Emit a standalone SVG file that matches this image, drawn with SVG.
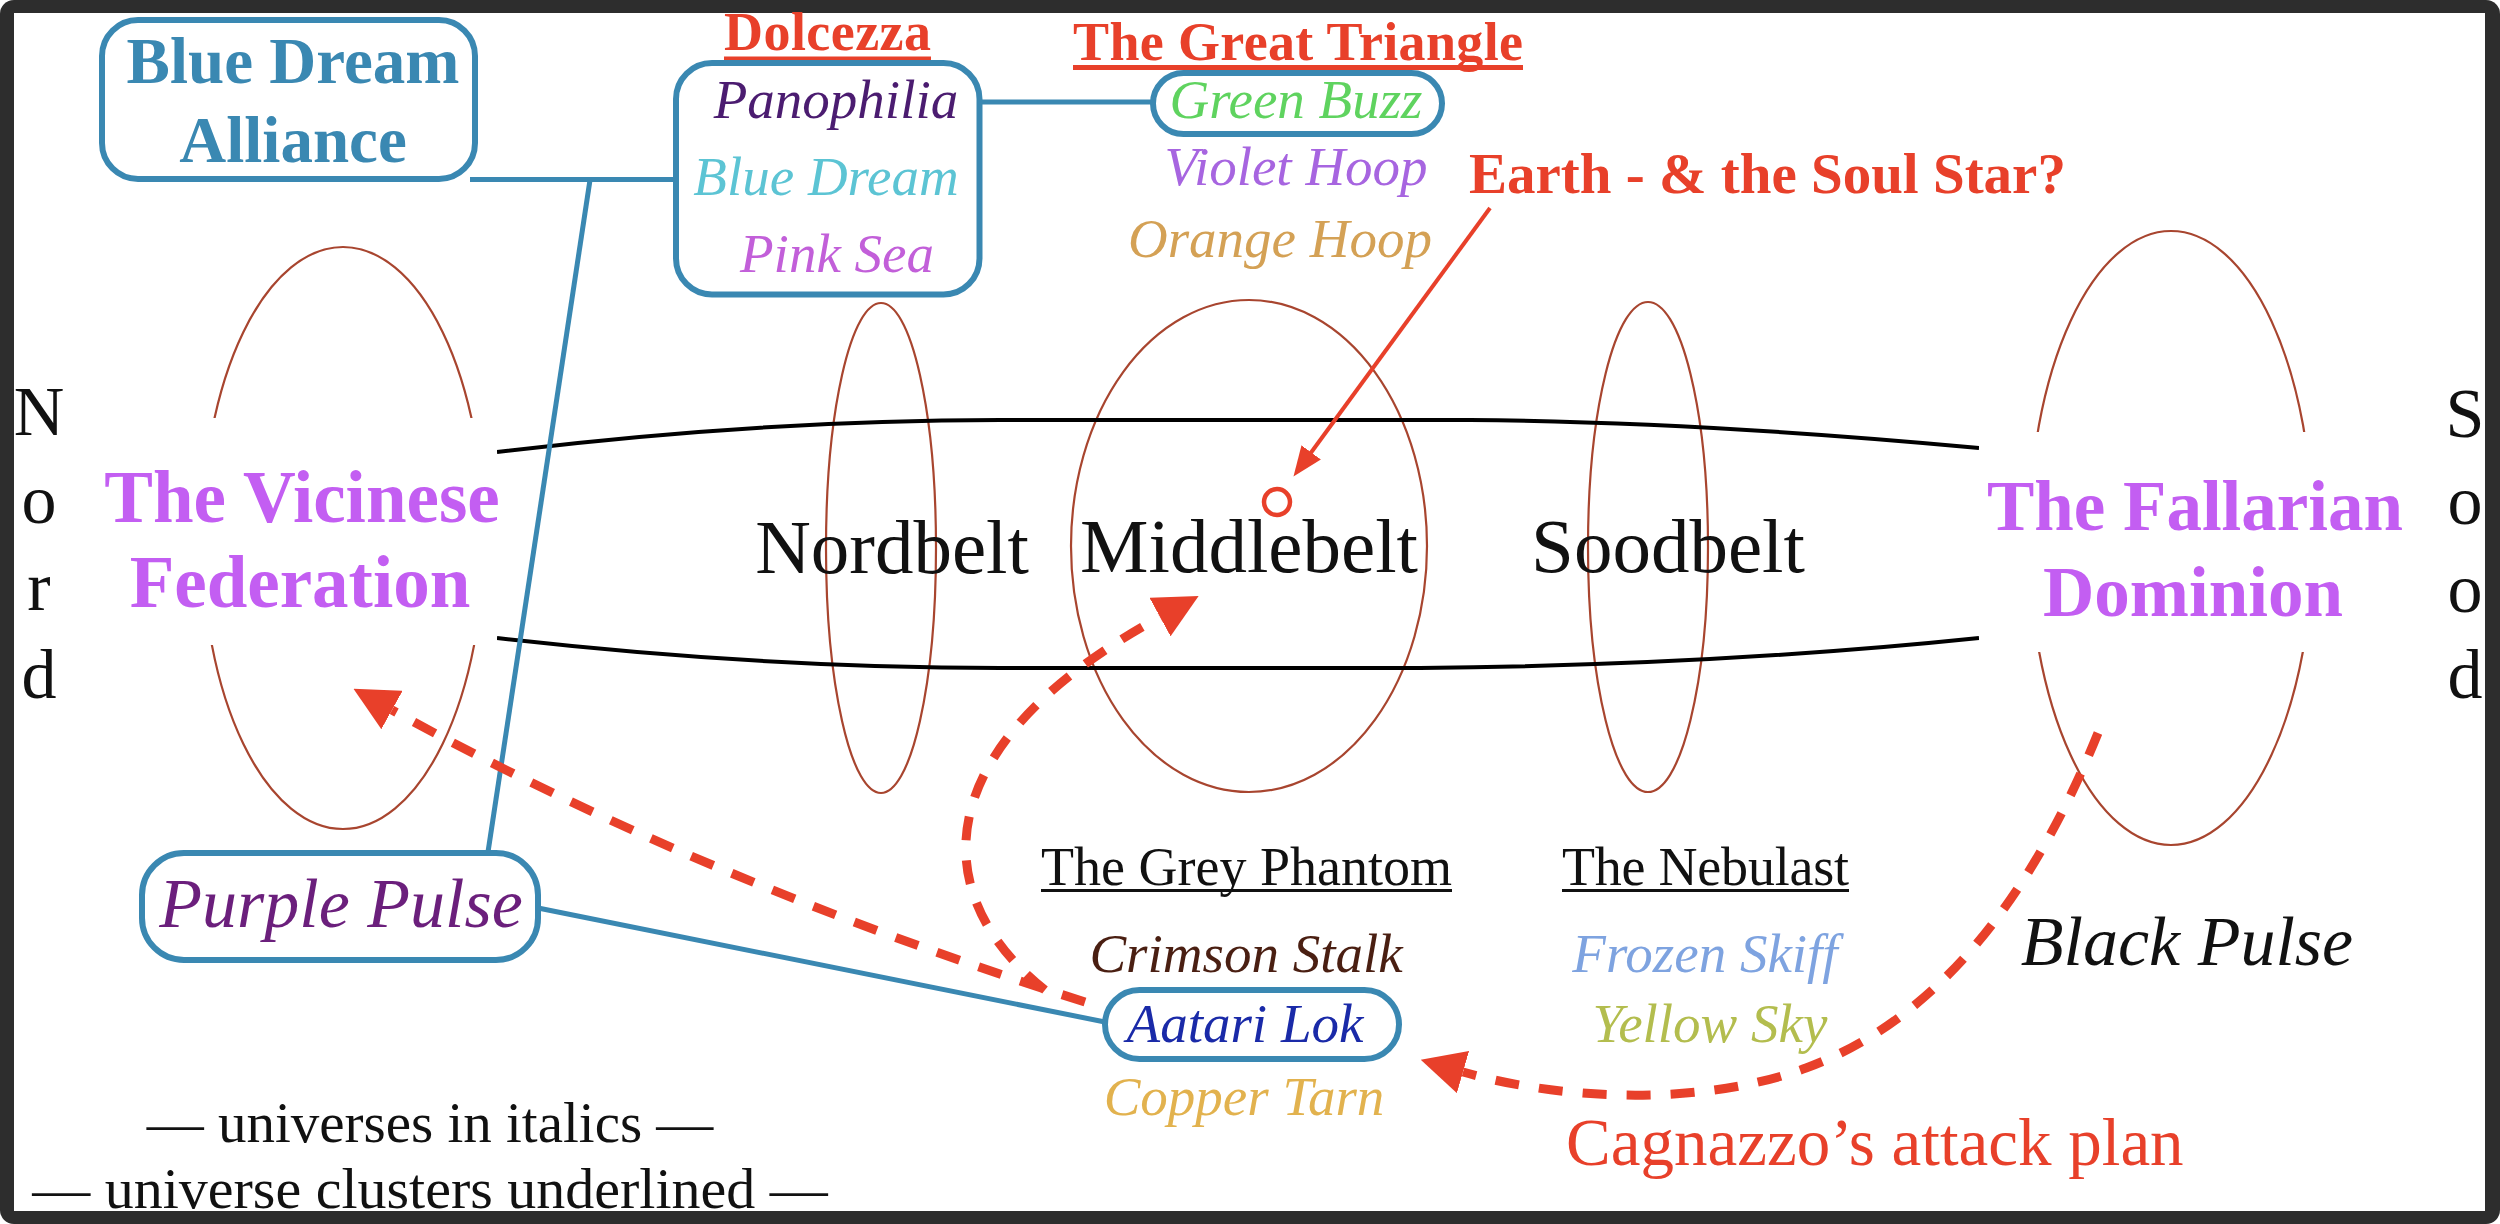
<svg xmlns="http://www.w3.org/2000/svg" width="2500" height="1224" viewBox="0 0 2500 1224">
<defs>
<style>
.ser{font-family:"Liberation Serif","Times New Roman",serif}
.it{font-family:"Liberation Serif","Times New Roman",serif;font-style:italic;font-size:55px;text-anchor:middle}
.bold{font-family:"Liberation Serif","Times New Roman",serif;font-weight:bold}
.ell{fill:none;stroke:#a8452f;stroke-width:2.2}
.belt{fill:none;stroke:#000;stroke-width:4}
.box{fill:#fff;stroke:#3a88b2;stroke-width:6}
.bl{fill:none;stroke:#3a88b2;stroke-width:5}
.dash{fill:none;stroke:#e8402a;stroke-width:9;stroke-dasharray:24 20}
.reg{font-family:"Liberation Serif","Times New Roman",serif;text-anchor:middle;fill:#111}
</style>
<marker id="redhead" markerUnits="userSpaceOnUse" viewBox="0 0 44 44" markerWidth="44" markerHeight="44" refX="0" refY="22" orient="auto">
<path d="M0,0 L44,22 L0,44 Z" fill="#e8402a"/>
</marker>
<marker id="earthhead" markerUnits="userSpaceOnUse" viewBox="0 0 30 24" markerWidth="30" markerHeight="24" refX="2" refY="12" orient="auto">
<path d="M0,0 L30,12 L0,24 Z" fill="#e8402a"/>
</marker>
</defs>

<rect width="2500" height="1224" fill="#fff"/>
<rect width="2500" height="1224" rx="14" fill="#2d2d2d"/>
<rect x="14" y="13" width="2471" height="1198" fill="#fff"/>

<g id="regions">
<ellipse class="ell" cx="343" cy="538" rx="141" ry="291"/>
<ellipse class="ell" cx="881" cy="548" rx="55" ry="245"/>
<ellipse class="ell" cx="1249" cy="546" rx="178" ry="246"/>
<ellipse class="ell" cx="1648" cy="547" rx="60" ry="245"/>
<ellipse class="ell" cx="2171" cy="538" rx="142" ry="307"/>
<path class="belt" d="M497,452 Q760,420 1000,420 L1470,420 Q1700,422 1979,448"/>
<path class="belt" d="M497,638 Q760,668 1000,668 L1420,668 Q1720,665 1979,638"/>
<rect x="80" y="418" width="417" height="227" fill="#fff"/>
<rect x="1979" y="432" width="460" height="220" fill="#fff"/>
</g>

<g id="compass">
<text class="reg" font-size="70" x="39" y="435">N</text>
<text class="reg" font-size="70" x="39" y="523">o</text>
<text class="reg" font-size="70" x="39" y="610">r</text>
<text class="reg" font-size="70" x="39" y="698">d</text>
<text class="reg" font-size="70" x="2465" y="437">S</text>
<text class="reg" font-size="70" x="2465" y="524">o</text>
<text class="reg" font-size="70" x="2465" y="612">o</text>
<text class="reg" font-size="70" x="2465" y="698">d</text>
</g>

<g id="belts">
<text class="reg" font-size="77" x="892" y="573">Nordbelt</text>
<text class="reg" font-size="77" x="1249" y="572">Middlebelt</text>
<text class="reg" font-size="77" x="1668" y="572">Soodbelt</text>
</g>

<g id="vicinese">
<text class="bold" font-size="73" fill="#c35ef2" text-anchor="middle" x="302" y="522">The Vicinese</text>
<text class="bold" font-size="73" fill="#c35ef2" text-anchor="middle" x="300" y="607">Federation</text>
</g>
<g id="fallarian">
<text class="bold" font-size="71" fill="#c35ef2" text-anchor="middle" x="2195" y="530">The Fallarian</text>
<text class="bold" font-size="71" fill="#c35ef2" text-anchor="middle" x="2193" y="616">Dominion</text>
</g>

<g id="connectors">
<line class="bl" x1="470" y1="179.5" x2="676" y2="179.5"/>
<line class="bl" x1="590" y1="180" x2="488" y2="852"/>
<line class="bl" x1="979" y1="102" x2="1153" y2="102"/>
<line class="bl" x1="538" y1="908" x2="1105" y2="1022"/>
</g>

<g id="blue-dream-alliance">
<rect class="box" x="102" y="20" width="373" height="159" rx="36"/>
<text class="bold" font-size="65" fill="#3a88b2" text-anchor="middle" x="293" y="83">Blue Dream</text>
<text class="bold" font-size="65" fill="#3a88b2" text-anchor="middle" x="293" y="162">Alliance</text>
</g>

<g id="dolcezza">
<text class="bold" font-size="54" fill="#e8402a" x="724" y="50" textLength="207">Dolcezza</text>
<line x1="724" y1="59" x2="931" y2="59" stroke="#e8402a" stroke-width="5"/>
<rect class="box" x="676" y="63" width="303.5" height="231.5" rx="36"/>
<text class="it" fill="#4b1c70" x="836" y="118">Panophilia</text>
<text class="it" fill="#5cc4d4" x="826" y="195">Blue Dream</text>
<text class="it" fill="#c25fd9" x="837" y="272">Pink Sea</text>
</g>

<g id="great-triangle">
<text class="bold" font-size="54" fill="#e8402a" x="1073" y="60" textLength="450">The Great Triangle</text>
<line x1="1073" y1="67.5" x2="1523" y2="67.5" stroke="#e8402a" stroke-width="5"/>
<rect class="box" x="1153" y="73" width="289" height="61" rx="30.5"/>
<text class="it" fill="#5fd35f" x="1296" y="118">Green Buzz</text>
<text class="it" fill="#a765e0" x="1296" y="185">Violet Hoop</text>
<text class="it" fill="#d4a155" x="1280" y="257">Orange Hoop</text>
</g>

<g id="earth">
<text class="bold" font-size="57" fill="#e8402a" x="1469" y="193">Earth - &amp; the Soul Star?</text>
<line x1="1490" y1="208" x2="1310" y2="454" stroke="#e8402a" stroke-width="4" marker-end="url(#earthhead)"/>
<circle cx="1277" cy="502" r="13" fill="none" stroke="#e8402a" stroke-width="4.5"/>
</g>

<g id="purple-pulse">
<rect class="box" x="142" y="853" width="396" height="107" rx="42"/>
<text class="it" font-size="70" fill="#6b1f7c" x="341" y="927" style="font-size:70px">Purple Pulse</text>
</g>

<g id="grey-phantom">
<text class="ser" font-size="54" fill="#111" x="1041" y="885" textLength="411">The Grey Phantom</text>
<line x1="1041" y1="890.5" x2="1452" y2="890.5" stroke="#111" stroke-width="3"/>
<text class="it" fill="#4a1f12" x="1246" y="972">Crimson Stalk</text>
<rect class="box" x="1105" y="990" width="294" height="69" rx="34.5"/>
<text class="it" fill="#1a2aa8" x="1245" y="1042">Aatari Lok</text>
<text class="it" fill="#e2b24e" x="1244" y="1115">Copper Tarn</text>
</g>

<g id="nebulast">
<text class="ser" font-size="54" fill="#111" x="1562" y="885" textLength="287">The Nebulast</text>
<line x1="1562" y1="890.5" x2="1849" y2="890.5" stroke="#111" stroke-width="3"/>
<text class="it" fill="#7ea3e0" x="1705" y="972">Frozen Skiff</text>
<text class="it" fill="#b3bd4e" x="1710" y="1042">Yellow Sky</text>
</g>

<g id="black-pulse">
<text class="it" fill="#111" x="2187" y="965" style="font-size:70px">Black Pulse</text>
</g>

<g id="attack-arrows">
<path class="dash" d="M1085,1002 Q700,880 392,710" marker-end="url(#redhead)"/>
<path class="dash" d="M1045,990 C925,895 925,745 1160,617" marker-end="url(#redhead)"/>
<path class="dash" d="M2098,733 Q1990,1000 1806,1068 C1700,1107 1560,1100 1463,1072" marker-end="url(#redhead)"/>
</g>

<g id="cagnazzo-label">
<text class="ser" font-size="67" fill="#e8402a" x="1566" y="1165">Cagnazzo’s attack plan</text>
</g>

<g id="legend">
<text class="reg" font-size="57" x="430" y="1142">— universes in italics —</text>
<text class="reg" font-size="58" x="430" y="1208">— universe clusters underlined —</text>
</g>
</svg>
